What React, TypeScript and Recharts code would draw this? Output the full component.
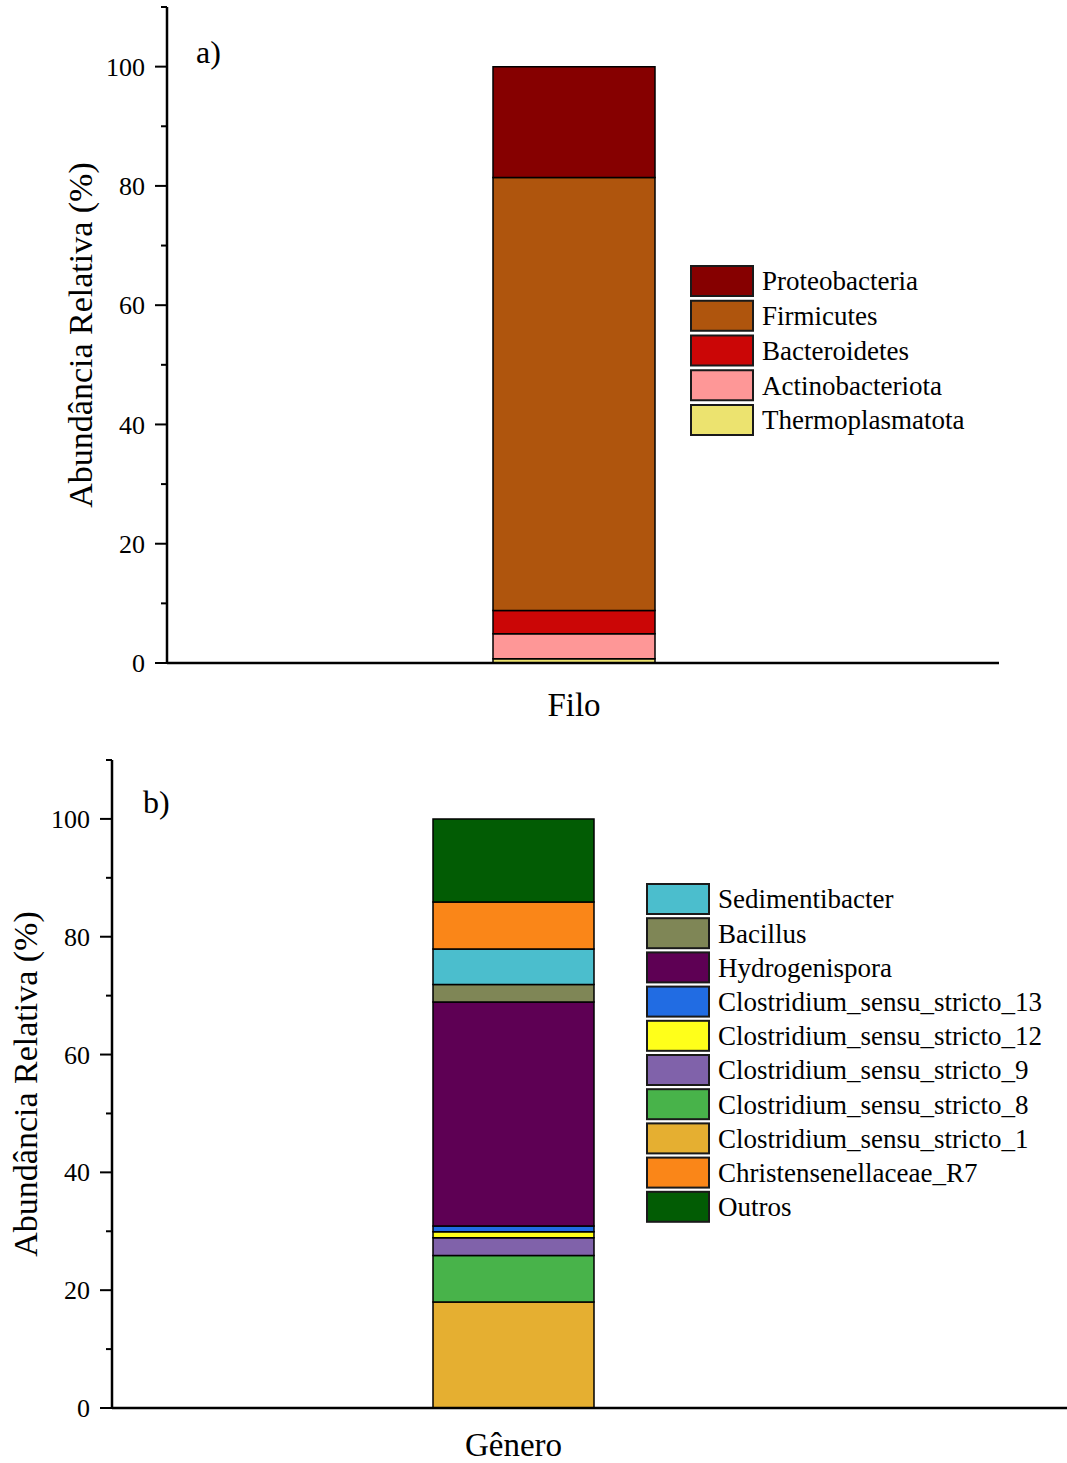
import { Bar, BarChart, Label, XAxis, YAxis } from "recharts";

const FONT = '"Liberation Serif", "Times New Roman", serif';

// stack order is bottom -> top
const phylumNames = ["Thermoplasmatota", "Actinobacteriota", "Bacteroidetes", "Firmicutes", "Proteobacteria"];
const phylumValues = [0.7, 4.2, 3.9, 72.6, 18.6];
const phylumColors = ["#ECE36F", "#FE9797", "#CB0606", "#AF550D", "#860000"];
const phylumLegend = ["Proteobacteria", "Firmicutes", "Bacteroidetes", "Actinobacteriota", "Thermoplasmatota"];

const genusNames = [
	"Clostridium_sensu_stricto_1",
	"Clostridium_sensu_stricto_8",
	"Clostridium_sensu_stricto_9",
	"Clostridium_sensu_stricto_12",
	"Clostridium_sensu_stricto_13",
	"Hydrogenispora",
	"Bacillus",
	"Sedimentibacter",
	"Christensenellaceae_R7",
	"Outros",
];
const genusValues = [18.0, 7.9, 3.0, 1.0, 1.0, 38.0, 3.0, 6.0, 8.0, 14.1];
const genusColors = [
	"#E5AF31",
	"#48B34A",
	"#8062AA",
	"#FFFF1A",
	"#216CE3",
	"#5E0054",
	"#7F8656",
	"#4BBECD",
	"#FA8618",
	"#025C04",
];
const genusLegend = [
	"Sedimentibacter",
	"Bacillus",
	"Hydrogenispora",
	"Clostridium_sensu_stricto_13",
	"Clostridium_sensu_stricto_12",
	"Clostridium_sensu_stricto_9",
	"Clostridium_sensu_stricto_8",
	"Clostridium_sensu_stricto_1",
	"Christensenellaceae_R7",
	"Outros",
];

const yTicks = [0, 10, 20, 30, 40, 50, 60, 70, 80, 90, 100, 110];
const yTitle = "Abundância Relativa (%)";

function YTick(props: any) {
	const { x, y, payload } = props;
	const major = payload.value % 20 === 0 && payload.value <= 100;
	return (
		<g>
			<line x1={x - (major ? 12 : 6)} x2={x} y1={y} y2={y} stroke="#000" strokeWidth={2} />
			{major ? (
				<text x={x - 22} y={y} dy="0.35em" textAnchor="end" fontSize={26} fontFamily={FONT} fill="#000">
					{payload.value}
				</text>
			) : null}
		</g>
	);
}

function yTitleContent(baseX: number) {
	return (props: any) => {
		const vb = props.viewBox;
		const cy = vb.y + vb.height / 2;
		return (
			<text
				x={baseX}
				y={cy}
				transform={`rotate(-90 ${baseX} ${cy})`}
				textAnchor="middle"
				fontSize={34}
				fontFamily={FONT}
				fill="#000"
			>
				{yTitle}
			</text>
		);
	};
}

interface PanelProps {
	category: string;
	names: string[];
	values: number[];
	colors: string[];
	height: number;
	margin: { top: number; right: number; bottom: number; left: number };
	padRight: number;
	barSize: number;
	titleX: number;
	labelGap: number;
	rightBorder: boolean;
}

function StackPanel(p: PanelProps) {
	const row: Record<string, number | string> = { name: p.category };
	p.names.forEach((n, i) => (row[n] = p.values[i]));
	const axisLine = { stroke: "#000", strokeWidth: 2.5 };
	return (
		<BarChart width={1067} height={p.height} data={[row]} margin={p.margin}>
			<XAxis
				dataKey="name"
				height={50}
				tickLine={false}
				tickSize={0}
				tickMargin={p.labelGap}
				axisLine={axisLine}
				padding={{ left: 0, right: p.padRight }}
				tick={{ fontSize: 33, fill: "#000", fontFamily: FONT }}
			/>
			<XAxis xAxisId="top" dataKey="name" orientation="top" height={0} tick={false} tickLine={false} axisLine={axisLine} />
			<YAxis
				domain={[0, 110]}
				ticks={yTicks}
				interval={0}
				width={60}
				tickLine={false}
				tickSize={0}
				tickMargin={0}
				axisLine={axisLine}
				tick={<YTick />}
			>
				<Label content={yTitleContent(p.titleX)} />
			</YAxis>
			{p.rightBorder ? (
				<YAxis yAxisId="right" orientation="right" width={0} tick={false} tickLine={false} axisLine={axisLine} />
			) : null}
			{p.names.map((n, i) => (
				<Bar
					key={n}
					dataKey={n}
					stackId="s"
					fill={p.colors[i]}
					stroke="#000"
					strokeWidth={1.5}
					barSize={p.barSize}
					isAnimationActive={false}
				/>
			))}
		</BarChart>
	);
}

function Legend({ x, y, step, names, colorOf }: { x: number; y: number; step: number; names: string[]; colorOf: (n: string) => string }) {
	return (
		<g>
			{names.map((n, i) => (
				<g key={n}>
					<rect x={x} y={y + i * step} width={62} height={30} fill={colorOf(n)} stroke="#1a1a1a" strokeWidth={2} />
					<text x={x + 71} y={y + i * step + 15} dy="0.35em" fontSize={27} fontFamily={FONT} fill="#000">
						{n}
					</text>
				</g>
			))}
		</g>
	);
}

export default function App() {
	return (
		<div style={{ position: "absolute", left: 0, top: 0, width: 1067, height: 1463, background: "#fff" }}>
			<div style={{ position: "absolute", left: 0, top: 0 }}>
				<StackPanel
					category="Filo"
					names={phylumNames}
					values={phylumValues}
					colors={phylumColors}
					height={735}
					margin={{ top: 7, right: 68, bottom: 22, left: 107 }}
					padRight={18}
					barSize={162}
					titleX={92}
					labelGap={30}
					rightBorder={true}
				/>
			</div>
			<div style={{ position: "absolute", left: 0, top: 740 }}>
				<StackPanel
					category="Gênero"
					names={genusNames}
					values={genusValues}
					colors={genusColors}
					height={723}
					margin={{ top: 20, right: 0, bottom: 5, left: 52 }}
					padRight={152}
					barSize={161}
					titleX={37}
					labelGap={25}
					rightBorder={false}
				/>
			</div>
			<svg width={1067} height={1463} style={{ position: "absolute", left: 0, top: 0, pointerEvents: "none" }}>
				<text x={196} y={63} fontSize={32} fontFamily={FONT} fill="#000">
					a)
				</text>
				<text x={143} y={813} fontSize={32} fontFamily={FONT} fill="#000">
					b)
				</text>
				<Legend x={691} y={266} step={34.75} names={phylumLegend} colorOf={(n) => phylumColors[phylumNames.indexOf(n)]} />
				<Legend x={647} y={884} step={34.2} names={genusLegend} colorOf={(n) => genusColors[genusNames.indexOf(n)]} />
			</svg>
		</div>
	);
}
